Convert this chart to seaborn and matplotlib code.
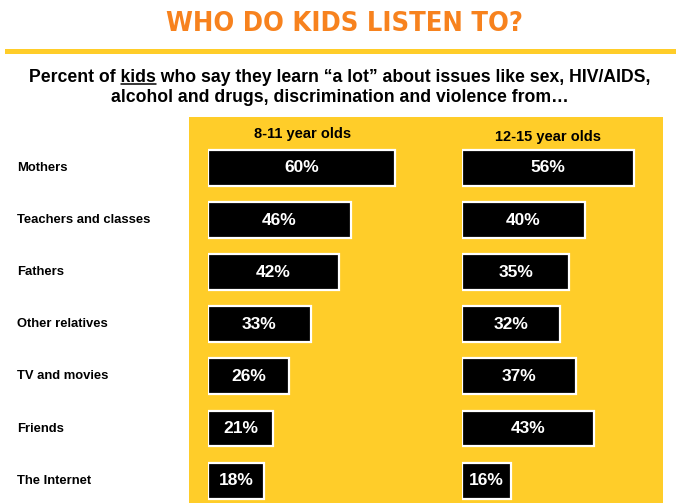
import matplotlib
matplotlib.use("Agg")
import matplotlib.pyplot as plt
import seaborn as sns
import pandas as pd
from matplotlib.patches import Rectangle
from matplotlib.lines import Line2D

sources = ["Mothers", "Teachers and classes", "Fathers", "Other relatives",
           "TV and movies", "Friends", "The Internet"]
age_8_11 = [60, 46, 42, 33, 26, 21, 18]
age_12_15 = [56, 40, 35, 32, 37, 43, 16]
groups = ["8-11 year olds", "12-15 year olds"]

title = "WHO DO KIDS LISTEN TO?"
sub_pre = "Percent of "
sub_kids = "kids"
sub_post = " who say they learn \u201ca lot\u201d about issues like sex, HIV/AIDS,"
sub_line2 = "alcohol and drugs, discrimination and violence from\u2026"

sns.set_theme(style="white")
plt.rcParams["font.family"] = ["Liberation Sans", "DejaVu Sans"]

W, H = 681, 503
fig = plt.figure(figsize=(W / 100, H / 100), dpi=100)
fig.patch.set_facecolor("white")

YEL = "#FFCD29"
ORANGE = "#F7821E"

def fx(px):
    return px / W

def fy(py):
    return 1 - py / H

# yellow rule under title
fig.add_artist(Rectangle((fx(5), fy(54)), fx(676) - fx(5), (54 - 49) / H,
                         transform=fig.transFigure, color=YEL, lw=0))
# yellow panel
fig.add_artist(Rectangle((fx(189), fy(503)), fx(663) - fx(189), (503 - 117) / H,
                         transform=fig.transFigure, color=YEL, lw=0, zorder=0))

fig.text(fx(344), fy(24), title, ha="center", va="center", color=ORANGE,
         fontsize=19.5, fontweight="bold", fontstretch="condensed",
         family=["DejaVu Sans"])

# subtitle with underlined "kids"
sub_fs = 12.7
full1 = sub_pre + sub_kids + sub_post
t1 = fig.text(fx(340), fy(77), full1, ha="center", va="center",
              fontsize=sub_fs, fontweight="bold", color="black")
fig.text(fx(340), fy(98), sub_line2, ha="center", va="center",
         fontsize=sub_fs, fontweight="bold", color="black")
fig.canvas.draw()
r = fig.canvas.get_renderer()
bb_full = t1.get_window_extent(r)
tmp = fig.text(0, 0, sub_pre, fontsize=sub_fs, fontweight="bold")
w_pre = tmp.get_window_extent(r).width
tmp2 = fig.text(0, 0, sub_pre + sub_kids, fontsize=sub_fs, fontweight="bold")
w_prek = tmp2.get_window_extent(r).width
tmp.remove(); tmp2.remove()
x0 = bb_full.x0 + w_pre
x1 = bb_full.x0 + w_prek
yline = bb_full.y0 + 1.5
fig.add_artist(Line2D([x0 / W, x1 / W], [yline / H, yline / H],
                      transform=fig.transFigure, color="black", lw=1.1))

# bar axes
row0, pitch = 168.0, 52.1
top_px = row0 - pitch / 2
bot_px = row0 + 6 * pitch + pitch / 2
panels = [(208, 3.11, age_8_11, 303, 134), (462, 3.07, age_12_15, 548, 137)]
for (left_px, scale, vals, hx, hy), grp in zip(panels, groups):
    width_px = 200
    ax = fig.add_axes([fx(left_px), 1 - bot_px / H, width_px / W, (bot_px - top_px) / H])
    ax.patch.set_alpha(0)
    df = pd.DataFrame({"source": sources, "pct": vals})
    sns.barplot(data=df, x="pct", y="source", orient="h", color="black",
                edgecolor="white", linewidth=1.6, width=0.69, saturation=1, ax=ax)
    ax.set_xlim(0, width_px / scale)
    ax.set_ylim(6.5, -0.5)
    ax.axis("off")
    for c in ax.containers:
        ax.bar_label(c, labels=[f"{v}%" for v in vals], label_type="center",
                     color="white", fontsize=12.5, fontweight="bold")
    fig.text(fx(hx), fy(hy), grp, ha="center", va="center", fontsize=10.5,
             fontweight="bold", color="black")

for i, s in enumerate(sources):
    fig.text(fx(17), fy(row0 + i * pitch), s, ha="left", va="center",
             fontsize=9.4, fontweight="bold", color="black")

fig.savefig("out.png", dpi=100)
